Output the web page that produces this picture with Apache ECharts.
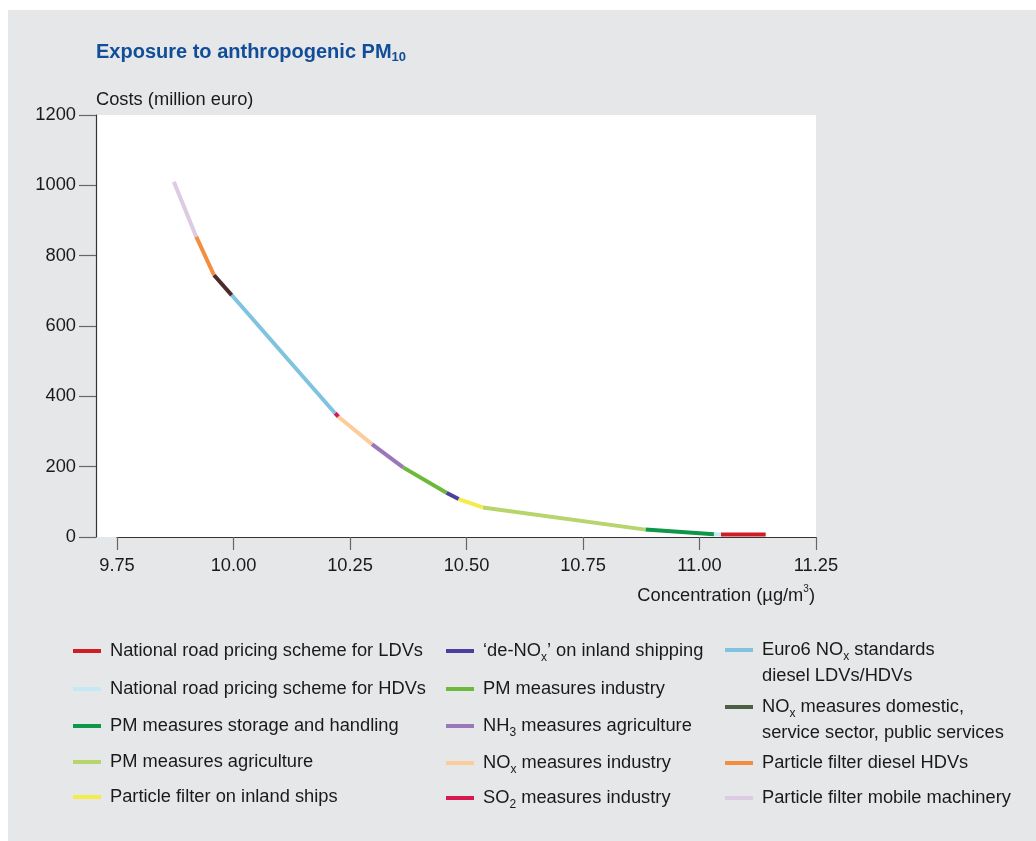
<!DOCTYPE html>
<html>
<head>
<meta charset="utf-8">
<script src="https://cdn.jsdelivr.net/npm/echarts@6/dist/echarts.min.js"></script>
<style>html,body{margin:0;padding:0;background:#fff}#c{width:1036px;height:841px}</style>
</head>
<body>
<div id="c"></div>
<script>
// ---- data ----
const measures = [
  'National road pricing scheme for LDVs',
  'National road pricing scheme for HDVs',
  'PM measures storage and handling',
  'PM measures agriculture',
  'Particle filter on inland ships',
  '‘de-NOx’ on inland shipping',
  'PM measures industry',
  'NH3 measures agriculture',
  'NOx measures industry',
  'SO2 measures industry',
  'Euro6 NOx standards diesel LDVs/HDVs',
  'NOx measures domestic, service sector, public services',
  'Particle filter diesel HDVs',
  'Particle filter mobile machinery'
];
const legendLabels = [
  'National road pricing scheme for LDVs',
  'National road pricing scheme for HDVs',
  'PM measures storage and handling',
  'PM measures agriculture',
  'Particle filter on inland ships',
  '‘de-NO{s|x}’ on inland shipping',
  'PM measures industry',
  'NH{s|3} measures agriculture',
  'NO{s|x} measures industry',
  'SO{s|2} measures industry',
  ' \nEuro6 NO{s|x} standards\ndiesel LDVs/HDVs',
  ' \nNO{s|x} measures domestic,\nservice sector, public services',
  'Particle filter diesel HDVs',
  'Particle filter mobile machinery'
];
// cumulative curve break points (concentration µg/m3, cost million euro)
const concentration = [11.142, 11.046, 11.031, 10.884, 10.535, 10.483, 10.457, 10.364, 10.297, 10.225, 10.218, 9.996, 9.958, 9.920, 9.872];
const cost          = [7,      7,      8,      21,     84,     108,    126,    198,    264,    342,    352,    688,   745,   854,   1010];
const xTicks = [9.75, 10.00, 10.25, 10.50, 10.75, 11.00, 11.25];
const yTicks = [0, 200, 400, 600, 800, 1000, 1200];

// ---- styles ----
const colors = ['#d01c24', '#c5e8f7', '#0e9748', '#b7d56c', '#f5ec4b', '#4a3f9e', '#6cb93b', '#9a77b8', '#fbcd9a', '#d8194f', '#7fc3df', '#4b2b2b', '#f48d3d', '#dccbe3'];
const legendColors = ['#d01c24', '#c5e8f7', '#0e9748', '#b7d56c', '#f5ec4b', '#4a3f9e', '#6cb93b', '#9a77b8', '#fbcd9a', '#d8194f', '#7fc3df', '#4e5f45', '#f48d3d', '#dccbe3'];
const legendPos = [
  [73, 651], [73, 689], [73, 726], [73, 762], [73, 797],
  [446, 651], [446, 689], [446, 726], [446, 763], [446, 798],
  [725, 650], [725, 707], [725, 763], [725, 798]
];
const FONT = "'Liberation Sans', Arial, Helvetica, sans-serif";
const LH = 26;

const series = measures.map((name, i) => ({
  name: name,
  type: 'line',
  data: [[concentration[i], cost[i]], [concentration[i + 1], cost[i + 1]]],
  showSymbol: false,
  symbol: 'none',
  lineStyle: { color: colors[i], width: 4, cap: 'butt' },
  itemStyle: { color: colors[i] },
  z: 3,
  silent: true
}));

const legends = measures.map((name, i) => {
  const lines = legendLabels[i].split('\n').length;
  return {
    data: [{ name: name, itemStyle: { color: legendColors[i] } }],
    left: legendPos[i][0],
    top: legendPos[i][1] - lines * LH / 2,
    orient: 'vertical',
    padding: 0,
    itemWidth: 28,
    itemHeight: 4,
    icon: 'rect',
    selectedMode: false,
    formatter: () => legendLabels[i],
    textStyle: {
      fontFamily: FONT, fontSize: 18.3, color: '#1a1a1a', lineHeight: LH,
      padding: [0, 0, 0, 4],
      rich: { s: { fontFamily: FONT, fontSize: 12, color: '#1a1a1a', verticalAlign: 'bottom', lineHeight: 5 } }
    }
  };
});

const chart = echarts.init(document.getElementById('c'), null, { renderer: 'canvas' });
chart.setOption({
  backgroundColor: '#ffffff',
  animation: false,
  graphic: [
    { type: 'rect', left: 8, top: 10, shape: { width: 1028, height: 831 }, style: { fill: '#e6e7e8' }, z: -20, silent: true },
    { type: 'rect', left: 96, top: 115, shape: { width: 720, height: 422 }, style: { fill: '#ffffff' }, z: -19, silent: true }
  ],
  title: [
    {
      text: '{m|Exposure to anthropogenic PM}{s|10}',
      left: 96, top: 40.4, padding: 0,
      textStyle: {
        rich: {
          m: { fontFamily: FONT, fontSize: 20, fontWeight: 'bold', color: '#114d98', lineHeight: 24 },
          s: { fontFamily: FONT, fontSize: 13, fontWeight: 'bold', color: '#114d98', verticalAlign: 'bottom', lineHeight: 2 }
        }
      }
    },
    {
      text: 'Costs (million euro)',
      left: 96, top: 88.8, padding: 0,
      textStyle: { fontFamily: FONT, fontSize: 18.3, fontWeight: 'normal', color: '#1a1a1a', lineHeight: 22 }
    },
    {
      text: '{m|Concentration (µg/m}{p|3}{m|)}',
      right: 221, top: 584.5, padding: 0,
      textStyle: {
        fontWeight: 'normal',
        rich: {
          m: { fontFamily: FONT, fontSize: 18.3, fontWeight: 'normal', color: '#1a1a1a', lineHeight: 22 },
          p: { fontFamily: FONT, fontSize: 10, fontWeight: 'normal', color: '#1a1a1a', verticalAlign: 'top', lineHeight: 16 }
        }
      }
    }
  ],
  legend: legends,
  tooltip: { show: false },
  grid: { left: 117, right: 220, top: 115, bottom: 304, containLabel: false },
  xAxis: {
    type: 'value',
    min: xTicks[0], max: xTicks[xTicks.length - 1], interval: 0.25,
    splitLine: { show: false },
    axisLine: { show: true, onZero: false, lineStyle: { color: '#333333', width: 1.2 } },
    axisTick: { show: true, length: 13, lineStyle: { color: '#666666', width: 1.2 } },
    axisLabel: {
      margin: 20, fontFamily: FONT, fontSize: 18.3, color: '#1a1a1a', lineHeight: 18,
      formatter: v => v.toFixed(2)
    }
  },
  yAxis: {
    type: 'value',
    min: yTicks[0], max: yTicks[yTicks.length - 1], interval: 200,
    position: 'left', offset: 21,
    splitLine: { show: false },
    axisLine: { show: true, lineStyle: { color: '#333333', width: 1.2 } },
    axisTick: { show: true, length: 17, lineStyle: { color: '#666666', width: 1.2 } },
    axisLabel: { margin: 20, fontFamily: FONT, fontSize: 18.3, color: '#1a1a1a', formatter: v => String(v) }
  },
  series: series
});
</script>
</body>
</html>
